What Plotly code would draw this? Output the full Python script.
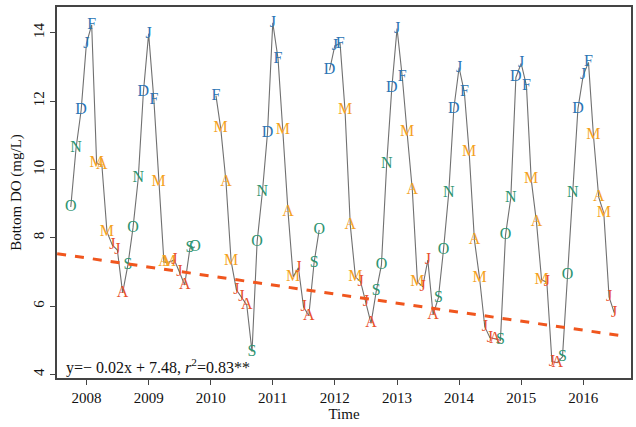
import plotly.graph_objects as go

# ---- data (monthly bottom DO, mg/L), Oct 2007 .. Jul 2016; None = no sample ----
start_year, start_month = 2007, 10
do_values = [
    8.90, 10.62, 11.73,                                                          # 2007 Oct-Dec
    13.68, 14.23, 10.18, 10.12, 8.17, 7.79, 7.64, 6.39, 7.21, 8.29, 9.74, 12.25,  # 2008
    13.97, 12.02, 9.63, 7.29, 7.29, 7.35, 7.00, 6.62, 7.70, 7.73, None, None,     # 2009
    None, 12.16, 11.20, 9.63, 7.32, 6.48, 6.27, 6.04, 4.67, 7.88, 9.34, 11.06,    # 2010
    14.29, 13.24, 11.14, 8.75, 6.86, 7.12, 5.98, 5.72, 7.27, 8.23, None, 12.90,   # 2011
    13.62, 13.68, 11.73, 8.37, 6.86, 6.71, 6.13, 5.50, 6.45, 7.20, 10.15, 12.37,  # 2012
    14.12, 12.69, 11.08, 9.39, 6.71, 6.57, 7.35, 5.75, 6.24, 7.64, 9.31, 11.78,   # 2013
    12.98, 12.25, 10.50, 7.94, 6.83, 5.40, 5.08, 5.05, 5.00, 8.08, 9.16, 12.69,   # 2014
    13.10, 12.45, 9.71, 8.46, 6.77, 6.70, 4.38, 4.35, 4.52, 6.92, 9.31, 11.78,    # 2015
    12.75, 13.13, 11.00, 9.19, 8.72, 6.27, 5.81,                                  # 2016 Jan-Jul
]
month_letters = ["J", "F", "M", "A", "M", "J", "J", "A", "S", "O", "N", "D"]
season_of_month = ["winter", "winter", "spring", "spring", "spring", "summer",
                   "summer", "summer", "autumn", "autumn", "autumn", "winter"]
season_colors = {"winter": "#2b74b4", "spring": "#f4a21f",
                 "summer": "#e8502c", "autumn": "#2e9470"}
year_ticks = [2008, 2009, 2010, 2011, 2012, 2013, 2014, 2015, 2016]

# trend (per month index, index 1 = first month)
trend_slope, trend_intercept = -0.022, 7.50
trend_months = [-1.6, 107.8]
equation_text = "y=\u2212 0.02x + 7.48, <i>r</i><sup>2</sup>=0.83**"

# ---- build dates ----
dates, month_idx = [], []
y, m = start_year, start_month
for i in range(len(do_values)):
    dates.append(f"{y}-{m:02d}-01")
    month_idx.append(m - 1)
    m += 1
    if m > 12:
        m = 1
        y += 1

fig = go.Figure()
fig.add_trace(go.Scatter(x=dates, y=do_values, mode="lines",
                         line=dict(color="#707070", width=1.1), connectgaps=False,
                         showlegend=False, hoverinfo="skip"))

for season, color in season_colors.items():
    xs, ys, ts = [], [], []
    for d, v, mi in zip(dates, do_values, month_idx):
        if v is not None and season_of_month[mi] == season:
            xs.append(d); ys.append(v); ts.append(month_letters[mi])
    fig.add_trace(go.Scatter(x=xs, y=ys, mode="text", text=ts,
                             textposition="middle center",
                             textfont=dict(family="Liberation Serif", size=16, color=color),
                             showlegend=False))

def idx_to_date(k):
    tot = (start_year * 12 + start_month - 1) + (k - 1)
    yy, mm = divmod(int(tot // 1), 12)
    day = 1 + int(round((tot - (tot // 1)) * 29))
    return f"{yy}-{mm + 1:02d}-{day:02d}"

fig.add_trace(go.Scatter(x=[idx_to_date(k) for k in trend_months],
                         y=[trend_intercept + trend_slope * k for k in trend_months],
                         mode="lines", line=dict(color="#f0561e", width=3, dash="dash"),
                         showlegend=False, hoverinfo="skip"))

fig.add_annotation(x=0.012, y=0.03, xref="paper", yref="paper", xanchor="left",
                   yanchor="middle", text=equation_text, showarrow=False,
                   font=dict(family="Liberation Serif", size=16, color="#111"))

axis_font = dict(family="Liberation Serif", size=15, color="#111")
fig.update_layout(
    width=636, height=427, margin=dict(l=57, r=3, t=7, b=49),
    paper_bgcolor="white", plot_bgcolor="white",
    font=axis_font,
    xaxis=dict(type="date", range=["2007-07-12", "2016-10-08"],
               tickvals=[f"{yr}-01-01" for yr in year_ticks],
               ticktext=[str(yr) for yr in year_ticks],
               showgrid=False, zeroline=False, showline=True, mirror=True,
               linecolor="#444", linewidth=1.5, ticks="outside", ticklen=5,
               tickcolor="#444", title=dict(text="Time", standoff=2, font=axis_font),
               tickfont=axis_font),
    yaxis=dict(range=[3.9, 14.75], tickvals=[4, 6, 8, 10, 12, 14], tickangle=-90,
               showgrid=False, zeroline=False, showline=True, mirror=True,
               linecolor="#444", linewidth=1.5, ticks="outside", ticklen=5,
               tickcolor="#444", title=dict(text="Bottom DO (mg/L)", standoff=6, font=axis_font),
               tickfont=axis_font),
)

fig.write_html("out.html")
